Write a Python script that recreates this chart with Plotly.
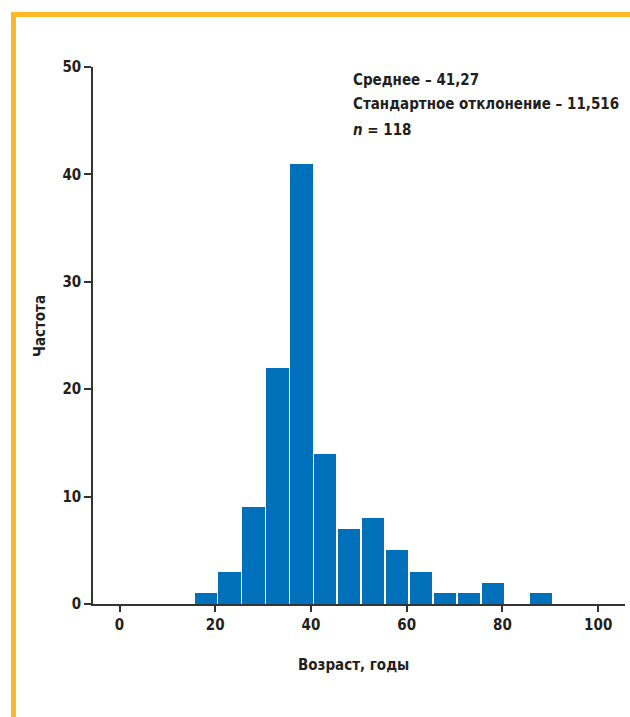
import plotly.graph_objects as go

bin_centers = [18, 23, 28, 33, 38, 43, 48, 53, 58, 63, 68, 73, 78, 83, 88]
counts = [1, 3, 9, 22, 41, 14, 7, 8, 5, 3, 1, 1, 2, 0, 1]
x_ticks = [0, 20, 40, 60, 80, 100]
y_ticks = [0, 10, 20, 30, 40, 50]
stats_lines = ["Среднее – 41,27", "Стандартное отклонение – 11,516", "<i>n</i> = 118"]

FONT = "DejaVu Sans Condensed, Liberation Sans Narrow, sans-serif"
W, H = 630, 717
L, R, T, B = 93, 5, 67, 113
pw, ph = W - L - R, H - T - B

def px(x):
    return (x - L) / pw

def py(y):
    return (H - B - y) / ph

fig = go.Figure()
fig.add_trace(go.Bar(x=bin_centers, y=counts, width=4.65,
                     marker=dict(color="#0070BA", line=dict(width=0)),
                     showlegend=False))

orange = "#FDB827"
fig.add_shape(type="path", xref="paper", yref="paper",
              path=f"M {px(13.5)} {py(720)} L {px(13.5)} {py(14.5)} L {px(640)} {py(14.5)}",
              line=dict(color=orange, width=5))

for i, txt in enumerate(stats_lines):
    fig.add_annotation(xref="paper", yref="paper", x=px(351), y=py([80, 104, 130][i]),
                       xanchor="left", yanchor="middle", text=f"<b>{txt}</b>",
                       showarrow=False, font=dict(family=FONT, size=15, color="#231F20"))

fig.add_annotation(xref="paper", yref="paper", x=px(40), y=py(326),
                   xanchor="center", yanchor="middle", textangle=-90,
                   text="<b>Частота</b>", showarrow=False,
                   font=dict(family=FONT, size=15, color="#231F20"))

fig.add_annotation(xref="paper", yref="paper", x=px(353), y=py(665),
                   xanchor="center", yanchor="middle",
                   text="<b>Возраст, годы</b>", showarrow=False,
                   font=dict(family=FONT, size=15, color="#231F20"))

fig.update_layout(
    width=W, height=H, margin=dict(l=L, r=R, t=T, b=B),
    paper_bgcolor="white", plot_bgcolor="white",
    font=dict(family=FONT, size=15, color="#231F20"),
    bargap=0,
    xaxis=dict(range=[-5.54, 105.6], tickvals=x_ticks,
               ticktext=[f"<b>{v}</b>" for v in x_ticks],
               showline=True, linecolor="#333333", linewidth=1.5,
               ticks="outside", ticklen=6, tickcolor="#333333", tickwidth=1.5,
               showgrid=False, zeroline=False),
    yaxis=dict(range=[0, 50], tickvals=y_ticks,
               ticktext=[f"<b>{v}</b>" for v in y_ticks],
               showline=True, linecolor="#333333", linewidth=1.5,
               ticks="outside", ticklen=7, tickcolor="#333333", tickwidth=1.5,
               showgrid=False, zeroline=False),
)

fig.write_html("out.html", config={"displayModeBar": False},
               post_script="document.body.style.margin='0';document.body.style.overflow='hidden';")
